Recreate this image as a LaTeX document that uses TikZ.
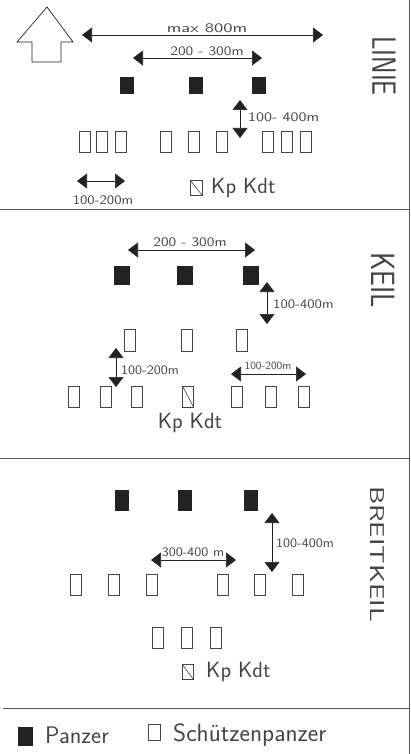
\documentclass[tikz,border=0pt]{standalone}
\usetikzlibrary{arrows.meta}
\definecolor{ink}{HTML}{222222}
\definecolor{pen}{HTML}{444444}
\definecolor{framec}{HTML}{5A5A5A}
\newcommand\myw[2]{\scalebox{#1}[1]{#2}}
\begin{document}
\begin{tikzpicture}[x=1pt,y=-1pt,
 pz/.style={fill=ink,draw=ink,line width=0.4pt,minimum width=13pt,minimum height=17pt,inner sep=0pt,outer sep=0pt},
 spz/.style={draw=pen,line width=0.6pt,minimum width=11pt,minimum height=21pt,inner sep=0pt,outer sep=0pt},
 kdt/.style={spz,minimum width=12pt,minimum height=15pt},
 dim/.style={draw=ink,line width=0.6pt,{Triangle[length=10pt,width=15pt]}-{Triangle[length=10pt,width=15pt]}},
 lbl/.style={text=pen,font=\sffamily\fontsize{13}{13}\selectfont,inner sep=1pt},
 big/.style={text=pen,font=\sffamily\fontsize{22}{22}\selectfont,inner sep=1pt},
 ttl/.style={text=pen,font=\sffamily\fontsize{24}{24}\selectfont,rotate=-90,inner sep=0pt},
 rulel/.style={draw=framec,line width=0.9pt}]
\useasboundingbox (0,0) rectangle (411,754);
% frame
\draw[rulel] (409,0) -- (409,754);
\draw[rulel] (0,209) -- (409,209);
\draw[rulel] (0,458) -- (409,458);
\draw[rulel] (3,708) -- (409,708);

% ===== LINIE =====
\draw[draw=ink,line width=0.7pt] (47,7) -- (73,42) -- (61,42) -- (61,62) -- (32,62) -- (32,42) -- (17,42) -- cycle;
\coordinate (m1) at (82,35); \coordinate (m2) at (323,35);
\draw[dim] (m1) -- (m2);
\node[lbl] (tm) at (207,28) {\myw{1.45}{max 800m}};
\coordinate (a1) at (133,58); \coordinate (a2) at (262,58);
\draw[dim] (a1) -- (a2);
\node[lbl] (ta) at (207,51) {\myw{1.2}{200 - 300m}};
\node[pz,minimum height=16pt] (p11) at (127,85) {};
\node[pz,minimum height=16pt] (p12) at (196,85) {};
\node[pz,minimum height=16pt] (p13) at (259,85) {};
\coordinate (v1) at (240,100); \coordinate (v2) at (240,138);
\draw[dim] (v1) -- (v2);
\node[lbl,anchor=west] (tv) at (247,117) {\myw{1.25}{100- 400m}};
\foreach \x [count=\i] in {85,102,121,166,194,222,268,287,306}
  \node[spz] (s1\i) at (\x,141.5) {};
\coordinate (h1) at (77,181); \coordinate (h2) at (125,181);
\draw[dim] (h1) -- (h2);
\node[lbl] (th) at (103,200) {\myw{1.15}{100-200m}};
\node[kdt] (k1) at (196,187.5) {};
\draw[pen,line width=0.6pt] (k1.north west) -- (k1.south east);
\node[big,anchor=west] (tk1) at (210,188) {Kp Kdt};
\node[ttl] (L1) at (384,66) {\scalebox{1.1}[1.4]{LINIE}};

% ===== KEIL =====
\coordinate (b1) at (128,250); \coordinate (b2) at (255,250);
\draw[dim] (b1) -- (b2);
\node[lbl] (tb) at (190,242) {\myw{1.2}{200 - 300m}};
\node[pz,minimum width=15pt,minimum height=18pt] (p21) at (122,275) {};
\node[pz,minimum width=15pt,minimum height=18pt] (p22) at (185,275) {};
\node[pz,minimum width=15pt,minimum height=18pt] (p23) at (251,275) {};
\coordinate (w1) at (267,282); \coordinate (w2) at (267,324);
\draw[dim] (w1) -- (w2);
\node[lbl,anchor=west] (tw) at (272,304) {\myw{1.15}{100-400m}};
\foreach \x [count=\i] in {130,187,242}
  \node[spz,minimum height=22pt] (s2\i) at (\x,340) {};
\coordinate (u1) at (116,348); \coordinate (u2) at (116,387);
\draw[dim] (u1) -- (u2);
\node[lbl,anchor=west] (tu) at (120,370) {\myw{1.1}{100-200m}};
\coordinate (g1) at (231,374); \coordinate (g2) at (306,374);
\draw[dim] (g1) -- (g2);
\node[lbl,font=\sffamily\fontsize{11}{11}\selectfont] (tg) at (268,366) {\myw{1.05}{100-200m}};
\foreach \x [count=\i] in {74,106,137,237,271,304}
  \node[spz] (r2\i) at (\x,396.5) {};
\node[spz] (k2) at (188,396.5) {};
\draw[pen,line width=0.6pt] (k2.north west) -- (k2.south east);
\node[big] (tk2) at (190,423) {Kp Kdt};
\node[ttl] (L2) at (383,280) {\scalebox{1.17}[1.4]{KEIL}};

% ===== BREITKEIL =====
\node[pz,minimum height=20pt] (p31) at (122,500) {};
\node[pz,minimum height=20pt] (p32) at (185,500) {};
\node[pz,minimum height=20pt] (p33) at (251,500) {};
\coordinate (x1) at (272,513); \coordinate (x2) at (272,572);
\draw[dim] (x1) -- (x2);
\node[lbl,anchor=west] (tx) at (275,543) {\myw{1.1}{100-400m}};
\coordinate (y1) at (151,560); \coordinate (y2) at (236,560);
\draw[dim] (y1) -- (y2);
\node[lbl] (ty) at (193,552) {\myw{1.1}{300-400 m}};
\foreach \x [count=\i] in {76,114,152,223,260,298}
  \node[spz] (s3\i) at (\x,584.5) {};
\foreach \x [count=\i] in {158,187,216}
  \node[spz] (r3\i) at (\x,637.5) {};
\node[kdt,minimum width=11pt] (k3) at (187.5,671.5) {};
\draw[pen,line width=0.6pt] (k3.north west) -- (k3.south east);
\node[big,anchor=west] (tk3) at (205,672) {Kp Kdt};
\node[ttl,font=\sffamily\fontsize{20}{20}\selectfont] (L3) at (377,554) {\scalebox{1.45}[1]{BREITKEIL}};

% ===== legend =====
\node[pz,minimum width=14pt,minimum height=18pt] (lp) at (25,736) {};
\node[big,font=\sffamily\fontsize{24}{24}\selectfont,anchor=west] (tlp) at (44,735) {Panzer};
\node[spz,minimum width=12pt,minimum height=16pt] (ls) at (154,732) {};
\node[big,font=\sffamily\fontsize{25}{25}\selectfont,anchor=west] (tls) at (172,735) {Schützenpanzer};
\end{tikzpicture}
\end{document}
